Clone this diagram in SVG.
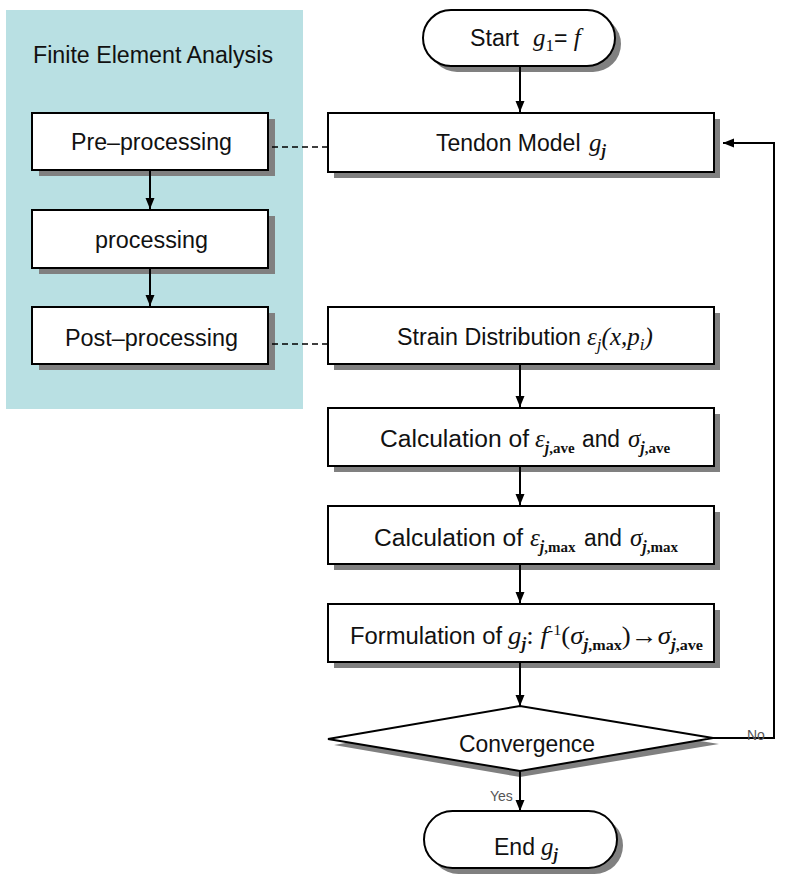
<svg xmlns="http://www.w3.org/2000/svg" width="788" height="888" viewBox="0 0 788 888">
<style>
.box{fill:#fff;stroke:#000;stroke-width:2}
.sh{fill:#808080}
.t{font-family:"Liberation Sans",Arial,sans-serif;font-size:23px;fill:#111}
.mt{font-family:"Liberation Serif","Times New Roman",serif;font-size:25px;fill:#111}
.m{font-style:italic}
.sb{font-weight:bold;font-size:15px;font-style:normal}
.si{font-weight:bold;font-style:italic;font-size:16px}
.ln{fill:none;stroke:#000;stroke-width:2}
.dash{fill:none;stroke:#000;stroke-width:1.5;stroke-dasharray:6,4}
.lbl{font-family:"Liberation Sans",Arial,sans-serif;font-size:14px;fill:#555}
</style>
<defs>
<marker id="ah" markerWidth="10" markerHeight="12" refX="11" refY="5" orient="auto" markerUnits="userSpaceOnUse">
<path d="M0,0.5 L11,5 L0,9.5 Z" fill="#000"/>
</marker>
</defs>
<rect width="788" height="888" fill="#fff"/>
<g id="fea-panel">
<rect x="6" y="10" width="297" height="399" fill="#b9e0e3"/>
<text class="t" x="33" y="63" textLength="240" lengthAdjust="spacingAndGlyphs">Finite Element Analysis</text>
</g>
<g id="pre">
<rect class="sh" x="39" y="119" width="236" height="57"/>
<rect class="box" x="32" y="113" width="236" height="57"/>
<text class="t" x="71" y="150" textLength="161" lengthAdjust="spacingAndGlyphs">Pre–processing</text>
</g>
<g id="proc">
<rect class="sh" x="39" y="216" width="236" height="58"/>
<rect class="box" x="32" y="210" width="236" height="58"/>
<text class="t" x="95" y="248" textLength="113" lengthAdjust="spacingAndGlyphs">processing</text>
</g>
<g id="post">
<rect class="sh" x="39" y="313" width="236" height="57"/>
<rect class="box" x="32" y="307" width="236" height="57"/>
<text class="t" x="65" y="346" textLength="173" lengthAdjust="spacingAndGlyphs">Post–processing</text>
</g>
<g id="start">
<rect class="sh" x="429" y="16" width="192" height="56" rx="28"/>
<rect class="box" x="423" y="10" width="192" height="56" rx="28"/>
<text class="t" x="470" y="46" textLength="49" lengthAdjust="spacingAndGlyphs">Start</text>
<text class="mt" x="533" y="46"><tspan class="m">g</tspan><tspan font-size="17" dy="5">1</tspan><tspan class="t" dy="-5" font-size="22">=</tspan><tspan class="m"> f</tspan></text>
</g>
<g id="tendon">
<rect class="sh" x="334" y="119" width="386" height="59"/>
<rect class="box" x="328" y="113" width="386" height="59"/>
<text class="t" x="436" y="151">Tendon Model</text>
<text class="mt" x="589" y="151"><tspan class="m">g</tspan><tspan class="si" dy="5">j</tspan></text>
</g>
<g id="strain">
<rect class="sh" x="334" y="313" width="386" height="57"/>
<rect class="box" x="328" y="307" width="386" height="57"/>
<text class="t" x="397" y="345" textLength="184" lengthAdjust="spacingAndGlyphs">Strain Distribution</text>
<text class="mt m" x="587" y="345">ε<tspan font-size="17" dy="5">j</tspan><tspan dy="-5">(x,p</tspan><tspan font-size="17" dy="5">i</tspan><tspan dy="-5">)</tspan></text>
</g>
<g id="calc-ave">
<rect class="sh" x="334" y="414" width="386" height="58"/>
<rect class="box" x="328" y="408" width="386" height="58"/>
<text class="t" x="380" y="447" textLength="149" lengthAdjust="spacingAndGlyphs">Calculation of</text>
<text class="mt" x="535" y="447"><tspan class="m">ε</tspan><tspan class="si" dy="6">j</tspan><tspan class="sb">,ave</tspan></text>
<text class="t" x="582" y="447" textLength="38" lengthAdjust="spacingAndGlyphs">and</text>
<text class="mt" x="628" y="447"><tspan class="m">σ</tspan><tspan class="si" dy="6">j</tspan><tspan class="sb">,ave</tspan></text>
</g>
<g id="calc-max">
<rect class="sh" x="334" y="512" width="386" height="58"/>
<rect class="box" x="328" y="506" width="386" height="58"/>
<text class="t" x="374" y="546" textLength="149" lengthAdjust="spacingAndGlyphs">Calculation of</text>
<text class="mt" x="530" y="546"><tspan class="m">ε</tspan><tspan class="si" dy="6">j</tspan><tspan class="sb">,max</tspan></text>
<text class="t" x="584" y="546" textLength="38" lengthAdjust="spacingAndGlyphs">and</text>
<text class="mt" x="630" y="546"><tspan class="m">σ</tspan><tspan class="si" dy="6">j</tspan><tspan class="sb">,max</tspan></text>
</g>
<g id="formulation">
<rect class="sh" x="334" y="610" width="386" height="58"/>
<rect class="box" x="328" y="604" width="386" height="58"/>
<text class="t" x="350" y="644" textLength="152" lengthAdjust="spacingAndGlyphs">Formulation of</text>
<text class="mt" x="508" y="644" textLength="195" lengthAdjust="spacingAndGlyphs"><tspan class="m">g</tspan><tspan class="si" dy="5">j</tspan><tspan dy="-5">:</tspan><tspan class="m"> f</tspan><tspan font-size="15" dy="-9">-1</tspan><tspan dy="9">(</tspan><tspan class="m">σ</tspan><tspan class="si" dy="6">j</tspan><tspan class="sb">,max</tspan><tspan dy="-6">)→</tspan><tspan class="m">σ</tspan><tspan class="si" dy="6">j</tspan><tspan class="sb">,ave</tspan></text>
</g>
<g id="convergence">
<polygon class="sh" points="334,745 520,712 719,744 520,777"/>
<polygon class="box" points="328,739 520,706 713,738 520,771"/>
<text class="t" x="459" y="752" textLength="136" lengthAdjust="spacingAndGlyphs">Convergence</text>
</g>
<g id="end">
<rect class="sh" x="430" y="817" width="193" height="57" rx="28.5"/>
<rect class="box" x="424" y="811" width="193" height="57" rx="28.5"/>
<text class="t" x="494" y="855" textLength="41" lengthAdjust="spacingAndGlyphs">End</text>
<text class="mt" x="541" y="855"><tspan class="m">g</tspan><tspan class="si" dy="5">j</tspan></text>
</g>
<g id="connectors">
<line class="ln" x1="520" y1="66" x2="520" y2="112" marker-end="url(#ah)"/>
<line class="ln" x1="520" y1="364" x2="520" y2="407" marker-end="url(#ah)"/>
<line class="ln" x1="520" y1="466" x2="520" y2="505" marker-end="url(#ah)"/>
<line class="ln" x1="520" y1="564" x2="520" y2="603" marker-end="url(#ah)"/>
<line class="ln" x1="520" y1="662" x2="520" y2="706" marker-end="url(#ah)"/>
<line class="ln" x1="520" y1="771" x2="520" y2="811" marker-end="url(#ah)"/>
<line class="ln" x1="150" y1="170" x2="150" y2="209" marker-end="url(#ah)"/>
<line class="ln" x1="150" y1="268" x2="150" y2="306" marker-end="url(#ah)"/>
<line class="dash" x1="272" y1="147" x2="328" y2="147"/>
<line class="dash" x1="272" y1="344" x2="328" y2="344"/>
<polyline class="ln" points="713,738 774,738 774,143 723,143" marker-end="url(#ah)"/>
<text class="lbl" x="747" y="740">No</text>
<text class="lbl" x="490" y="801">Yes</text>
</g>
</svg>
